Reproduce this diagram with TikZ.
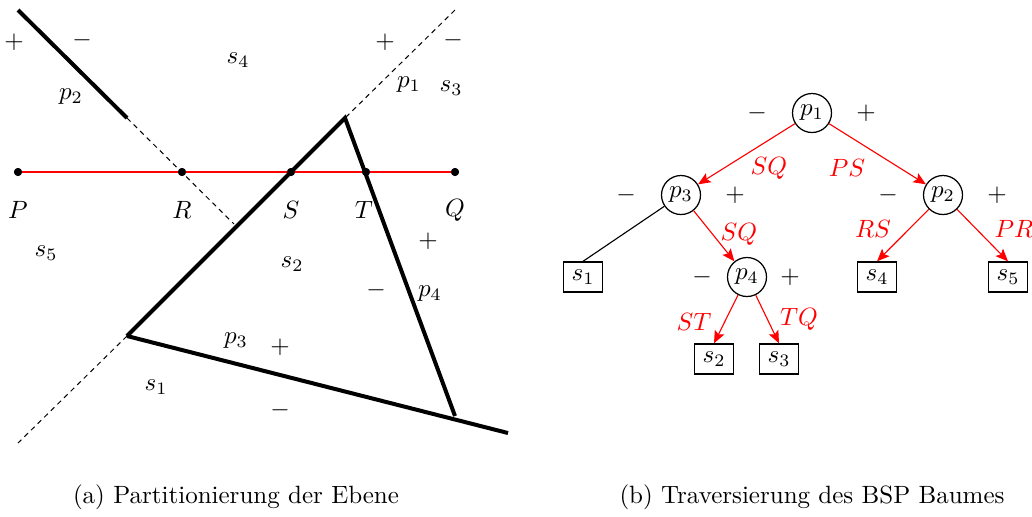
\documentclass[tikz,border=0pt]{standalone}
\usetikzlibrary{arrows.meta}
\begin{document}
\begin{tikzpicture}[x=0.40pt,y=-0.40pt,
  thickln/.style={line width=1.6pt},
  dashln/.style={dashed,line width=0.4pt,dash pattern=on 2pt off 1.7pt},
  redln/.style={red,line width=0.85pt},
  dotnode/.style={circle,fill=black,inner sep=0pt,minimum size=3.2pt},
  lbl/.style={inner sep=0pt},
  pnode/.style={circle,draw,line width=0.5pt,inner sep=0pt,minimum size=15.6pt},
  snode/.style={rectangle,draw,line width=0.55pt,inner sep=0pt,minimum width=15.6pt,minimum height=12pt},
  redge/.style={red,line width=0.45pt,-{Stealth[length=5pt,width=4.2pt,inset=1pt]}},
  bedge/.style={black,line width=0.45pt},
  elbl/.style={red,inner sep=0pt}]
\useasboundingbox (0,0) rectangle (1032,516);
% ---------- (a) ----------
\coordinate (A1) at (18,10);
\coordinate (A2) at (127,118);
\coordinate (A3) at (234,224);
\coordinate (B1) at (455,10);
\coordinate (Ttop) at (345,118);
\coordinate (Tbl) at (127,336);
\coordinate (Tbr) at (455,416);
\coordinate (B4) at (18,443);
\coordinate (C1) at (508,433);
\draw[thickln] (A1) -- (A2);
\draw[dashln] (A2) -- (A3);
\draw[dashln] (B1) -- (Ttop);
\draw[dashln] (Tbl) -- (B4);
\draw[thickln,line join=miter] (Tbl) -- (Ttop) -- (Tbr);
\draw[thickln] (Tbl) -- (C1);
\node[dotnode] (P) at (18,172) {};
\node[dotnode] (R) at (182,172) {};
\node[dotnode] (S) at (291,172) {};
\node[dotnode] (T) at (366,172) {};
\node[dotnode] (Q) at (455,172) {};
\draw[redln] (P.center) -- (Q.center);
\foreach \n in {P,R,S,T,Q} \node[dotnode] at (\n) {};
\node[lbl] (lP) at (18,210) {$P$};
\node[lbl] (lR) at (182,210) {$R$};
\node[lbl] (lS) at (291,210) {$S$};
\node[lbl] (lT) at (364,210) {$T$};
\node[lbl] (lQ) at (455,210) {$Q$};
\node[lbl] (a1) at (14,42) {$+$};
\node[lbl] (a2) at (82,40) {$-$};
\node[lbl] (a3) at (238,60) {$s_4$};
\node[lbl] (a4) at (385,42) {$+$};
\node[lbl] (a5) at (453,40) {$-$};
\node[lbl] (a6) at (71,97) {$p_2$};
\node[lbl] (a7) at (409,85) {$p_1$};
\node[lbl] (a8) at (451,88) {$s_3$};
\node[lbl] (a9) at (428,241) {$+$};
\node[lbl] (a10) at (46,253) {$s_5$};
\node[lbl] (a11) at (292,264) {$s_2$};
\node[lbl] (a12) at (376,290) {$-$};
\node[lbl] (a13) at (430,294) {$p_4$};
\node[lbl] (a14) at (236,341) {$p_3$};
\node[lbl] (a15) at (280,347) {$+$};
\node[lbl] (a16) at (156,387) {$s_1$};
\node[lbl] (a17) at (280,410) {$-$};
% ---------- (b) ----------
\node[pnode] (p1) at (812,113) {$p_1$};
\node[pnode] (p3) at (681,195) {$p_3$};
\node[pnode] (p2) at (943,195) {$p_2$};
\node[pnode] (p4) at (747,277) {$p_4$};
\node[snode] (s1) at (583,277) {$s_1$};
\node[snode] (s4) at (877,277) {$s_4$};
\node[snode] (s5) at (1008,277) {$s_5$};
\node[snode] (s2) at (714,359) {$s_2$};
\node[snode] (s3) at (779,359) {$s_3$};
\node[lbl] (b1) at (757,113) {$-$};
\node[lbl] (b2) at (866,113) {$+$};
\node[lbl] (b3) at (626,195) {$-$};
\node[lbl] (b4) at (735,195) {$+$};
\node[lbl] (b5) at (888,195) {$-$};
\node[lbl] (b6) at (997,195) {$+$};
\node[lbl] (b7) at (702,277) {$-$};
\node[lbl] (b8) at (790,277) {$+$};
\draw[redge] (p1) -- (p3);
\draw[redge] (p1) -- (p2);
\draw[bedge] (p3) -- (s1.north);
\draw[redge] (p3) -- (p4);
\draw[redge] (p2) -- (s4.north);
\draw[redge] (p2) -- (s5.north);
\draw[redge] (p4) -- (s2.north);
\draw[redge] (p4) -- (s3.north);
\node[elbl] (e1) at (769,168) {$SQ$};
\node[elbl] (e2) at (847,168) {$PS$};
\node[elbl] (e3) at (739,234) {$SQ$};
\node[elbl] (e4) at (873,229) {$RS$};
\node[elbl] (e5) at (1014,229) {$PR$};
\node[elbl] (e6) at (694,322) {$ST$};
\node[elbl] (e7) at (799,319) {$TQ$};
% ---------- captions ----------
\node[lbl] (capa) at (236,497) {(a) Partitionierung der Ebene};
\node[lbl] (capb) at (812,497) {(b) Traversierung des BSP Baumes};
\end{tikzpicture}
\end{document}
